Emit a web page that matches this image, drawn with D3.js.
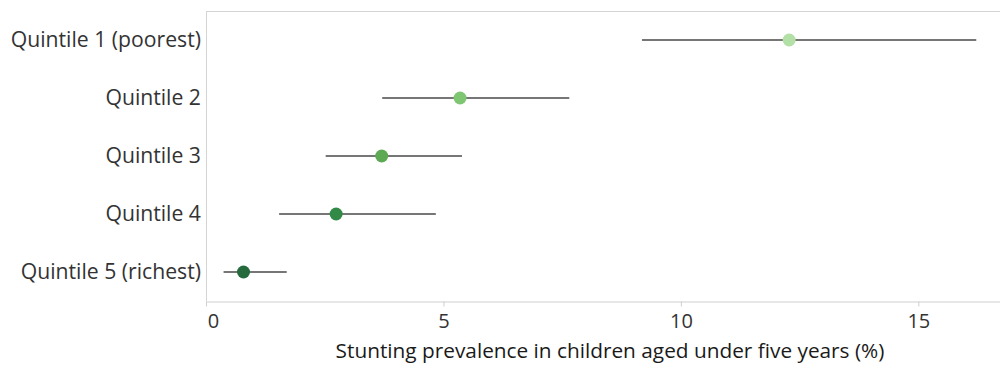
<!DOCTYPE html>
<html>
<head>
<meta charset="utf-8">
<script src="https://cdn.jsdelivr.net/npm/d3@7"></script>
<style>
  body { margin: 0; background: #fff; }
  svg text { font-family: "Open Sans", "Noto Sans", sans-serif; }
</style>
</head>
<body>
<div class="chart-container"></div>
<script>
// Data
const categories = ["Quintile 1 (poorest)", "Quintile 2", "Quintile 3", "Quintile 4", "Quintile 5 (richest)"];
const estimate = [12.28, 5.35, 3.70, 2.74, 0.79];
const lower = [9.18, 3.71, 2.52, 1.54, 0.37];
const upper = [16.22, 7.65, 5.39, 4.84, 1.70];
const colors = ["#b3e0a6", "#7fc672", "#5ea953", "#338a47", "#246a3d"];
const xTicks = [0, 5, 10, 15];

function draw(){
    const width = 1000;
    const height = 365;
    const marginTop = 11;
    const marginRight = 0;
    const marginBottom = 64;
    const marginLeft = 206;

    const x = d3.scaleLinear()
        .domain([0, 16.72])
        .range([marginLeft, width - marginRight]);

    const y = d3.scaleBand()
        .domain(categories)
        .range([marginTop, height - marginBottom]);

    const svg = d3.select('.chart-container').append("svg")
        .attr("width", width)
        .attr("height", height);

    // frame lines
    svg.append("line")
        .attr("x1", marginLeft).attr("x2", width)
        .attr("y1", marginTop + 0.5).attr("y2", marginTop + 0.5)
        .attr("stroke", "#d4d4d4");
    svg.append("line")
        .attr("x1", marginLeft + 0.5).attr("x2", marginLeft + 0.5)
        .attr("y1", marginTop).attr("y2", height - marginBottom)
        .attr("stroke", "#d4d4d4");

    // x axis
    const xAxis = svg.append("g")
        .attr("transform", `translate(0,${height - marginBottom + 0.5})`)
        .call(d3.axisBottom(x).tickValues(xTicks).tickSize(5).tickPadding(7).tickSizeOuter(0));
    xAxis.select(".domain").attr("stroke", "#cfcfcf");
    xAxis.selectAll(".tick line").attr("stroke", "#cfcfcf");
    xAxis.selectAll(".tick text")
        .attr("font-size", 20)
        .attr("fill", "#333")
        .attr("dx", d => d === 0 ? 7 : 0);

    svg.append("text")
        .attr("x", 610)
        .attr("y", 358)
        .attr("text-anchor", "middle")
        .attr("font-size", 20.8)
        .attr("fill", "#1a1a1a")
        .text("Stunting prevalence in children aged under five years (%)");

    // y labels
    svg.append("g")
        .selectAll("text")
        .data(categories)
        .enter()
        .append("text")
        .attr("x", marginLeft - 5)
        .attr("y", d => y(d) + y.bandwidth() / 2)
        .attr("dy", "0.35em")
        .attr("text-anchor", "end")
        .attr("font-size", 21.2)
        .attr("fill", "#333")
        .text(d => d);

    // ranges
    svg.append("g")
        .selectAll("line")
        .data(categories)
        .enter()
        .append("line")
        .attr("x1", (d, i) => x(lower[i]))
        .attr("x2", (d, i) => x(upper[i]))
        .attr("y1", d => y(d) + y.bandwidth() / 2)
        .attr("y2", d => y(d) + y.bandwidth() / 2)
        .attr("stroke", "#767676")
        .attr("stroke-width", 1.8);

    // points
    svg.append("g")
        .selectAll("circle")
        .data(categories)
        .enter()
        .append("circle")
        .attr("cx", (d, i) => x(estimate[i]))
        .attr("cy", d => y(d) + y.bandwidth() / 2)
        .attr("r", 6.5)
        .attr("fill", (d, i) => colors[i]);
}

draw();
</script>
</body>
</html>
